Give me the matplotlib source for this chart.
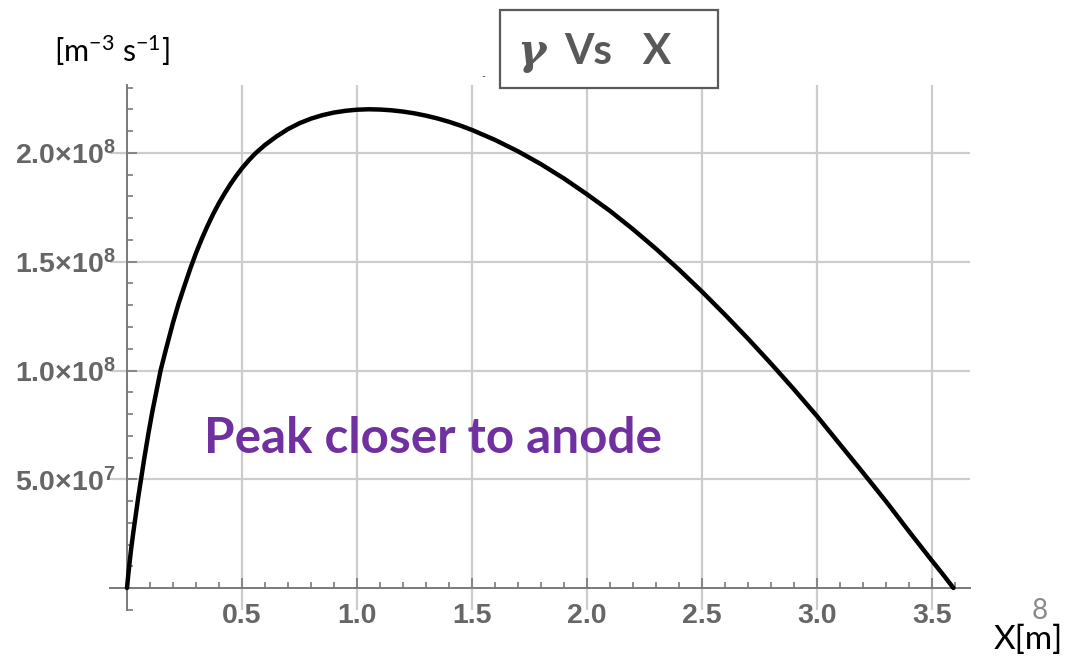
import matplotlib
matplotlib.use("Agg")
import matplotlib.pyplot as plt
from matplotlib.ticker import MultipleLocator, FixedLocator, FuncFormatter
from matplotlib.patches import Rectangle

# Generation rate gamma [m^-3 s^-1] along the gap X [m]
x_m = [0.0, 0.005, 0.01, 0.018, 0.028, 0.04, 0.05, 0.061, 0.075, 0.093, 0.11,
       0.128, 0.146, 0.17, 0.2, 0.225, 0.25, 0.275, 0.3, 0.325, 0.35, 0.375,
       0.4, 0.425, 0.45, 0.475, 0.5, 0.53, 0.56, 0.6, 0.65, 0.7, 0.75, 0.8,
       0.85, 0.9, 0.95, 1.0, 1.05, 1.1, 1.15, 1.2, 1.25, 1.3, 1.35, 1.4, 1.45,
       1.5, 1.6, 1.7, 1.8, 1.9, 2.0, 2.1, 2.2, 2.3, 2.4, 2.5, 2.6, 2.7, 2.8,
       2.9, 3.0, 3.1, 3.2, 3.3, 3.4, 3.5, 3.55, 3.593]
gamma = [0.0, 5.5e6, 1.05e7, 1.8e7, 2.6e7, 3.5e7, 4.25e7, 5.0e7, 5.95e7, 7.1e7,
         8.1e7, 9.05e7, 1.0e8, 1.1e8, 1.22e8, 1.31e8, 1.39e8, 1.468e8, 1.54e8,
         1.605e8, 1.665e8, 1.72e8, 1.77e8, 1.815e8, 1.857e8, 1.895e8, 1.93e8,
         1.967e8, 2.0e8, 2.037e8, 2.076e8, 2.11e8, 2.137e8, 2.158e8, 2.174e8,
         2.186e8, 2.194e8, 2.199e8, 2.201e8, 2.1998e8, 2.1963e8, 2.1904e8,
         2.1822e8, 2.1716e8, 2.1587e8, 2.1434e8, 2.1258e8, 2.1058e8, 2.0601e8,
         2.0077e8, 1.9485e8, 1.8826e8, 1.81e8, 1.7337e8, 1.6493e8, 1.5593e8,
         1.4637e8, 1.3625e8, 1.2564e8, 1.1461e8, 1.0316e8, 9.13e7, 7.9e7, 6.6e7,
         5.3e7, 3.98e7, 2.6e7, 1.25e7, 5.9e6, 0.0]

x_ticks = [0.5, 1.0, 1.5, 2.0, 2.5, 3.0, 3.5]
y_ticks = [5.0e7, 1.0e8, 1.5e8, 2.0e8]
y_tick_labels = ["5.0×10$^{7}$", "1.0×10$^{8}$", "1.5×10$^{8}$", "2.0×10$^{8}$"]

plt.rcParams["mathtext.default"] = "regular"

fig = plt.figure(figsize=(10.66, 6.57), dpi=100)
ax = fig.add_axes([110 / 1066, 47 / 657, 860 / 1066, 525 / 657])

ax.plot(x_m, gamma, color="black", lw=3.2, solid_capstyle="round",
        solid_joinstyle="round", zorder=4)

ax.set_xlim(-0.0739, 3.665)
ax.set_ylim(-1.011e7, 2.3126e8)

for side in ("top", "right"):
    ax.spines[side].set_visible(False)
for side in ("left", "bottom"):
    ax.spines[side].set_position(("data", 0))
    ax.spines[side].set_color("#7a7a7a")
    ax.spines[side].set_linewidth(1.4)
    ax.spines[side].set_zorder(3)

ax.xaxis.set_major_locator(FixedLocator(x_ticks))
ax.xaxis.set_minor_locator(MultipleLocator(0.1))
ax.yaxis.set_major_locator(FixedLocator(y_ticks))
ax.yaxis.set_minor_locator(MultipleLocator(1.0e7))
ax.yaxis.set_major_formatter(FuncFormatter(
    lambda v, p: y_tick_labels[y_ticks.index(v)] if v in y_ticks else ""))
ax.xaxis.set_major_formatter(FuncFormatter(lambda v, p: f"{v:.1f}"))

ax.tick_params(which="both", direction="in", color="#7a7a7a", width=1.2)
ax.tick_params(which="major", length=7)
ax.tick_params(which="minor", length=4.5)
ax.tick_params(axis="x", which="major", pad=10.5)
ax.tick_params(axis="y", which="major", pad=8)
for lab in ax.get_xticklabels() + ax.get_yticklabels():
    lab.set_fontfamily("Liberation Sans")
    lab.set_fontweight("bold")
    lab.set_fontsize(20.5)
    lab.set_color("#666666")

ax.grid(True, which="major", color="#cccccc", lw=1.6, zorder=1)
ax.set_axisbelow(True)

ax.text(0.335, 6.2e7, "Peak closer to anode",
        fontsize=35.6, fontweight="bold", family="Lato", color="#7030A0",
        va="baseline", ha="left", zorder=5)

# Title box
fig.add_artist(Rectangle((500 / 1066, 1 - 88 / 657), 218 / 1066, 78 / 657,
                         transform=fig.transFigure, facecolor="white",
                         edgecolor="#5a5a5a", lw=1.6, zorder=10))
fig.text(517 / 1066, 1 - 64 / 657, "γ", family="DejaVu Serif", style="italic",
         fontweight="bold", fontsize=31, color="#595959", va="baseline", zorder=11)
fig.text(564 / 1066, 1 - 64 / 657, "Vs   X", family="Lato", fontweight="bold",
         fontsize=30.5, color="#595959", va="baseline", zorder=11)
fig.text(481 / 1066, 1 - 80 / 657, "-", family="Lato", fontsize=8,
         color="#555555", va="baseline")

# Axis unit labels
fig.text(54 / 1066, 1 - 62 / 657, "[m$^{-3}$ s$^{-1}$]", family="Lato",
         fontsize=22, color="black", va="baseline")
fig.text(994 / 1066, 1 - 649 / 657, "X[m]", family="Lato",
         fontsize=24, color="black", va="baseline")
fig.text(1032 / 1066, 1 - 619 / 657, "8", family="Lato",
         fontsize=20, color="#8a8a8a", va="baseline")

fig.savefig("out.png", dpi=100, facecolor="white")
